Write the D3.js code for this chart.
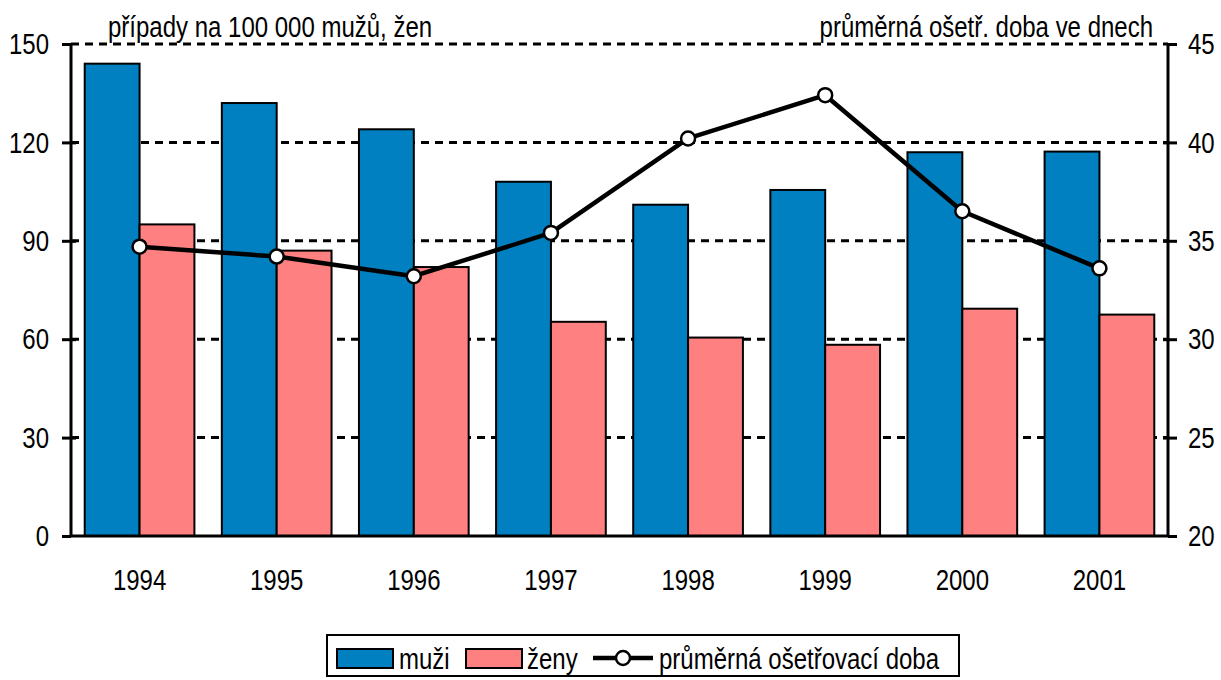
<!DOCTYPE html>
<html>
<head>
<meta charset="utf-8">
<script src="https://cdn.jsdelivr.net/npm/d3@7"></script>
<style>
  html, body { margin: 0; padding: 0; background: #fff; }
  svg text { font-family: "Liberation Sans", Arial, sans-serif; fill: #000; }
</style>
</head>
<body>
<svg id="chart" width="1221" height="680"></svg>
<script>
'use strict';
// data
const years = ['1994', '1995', '1996', '1997', '1998', '1999', '2000', '2001'];
const muzi = [144, 132, 124, 108, 101, 105.5, 117, 117.2];
const zeny = [95, 87, 82, 65.3, 60.5, 58.3, 69.3, 67.5];
const doba = [34.7, 34.2, 33.2, 35.4, 40.2, 42.4, 36.5, 33.6];
const leftTicks = [0, 30, 60, 90, 120, 150];
const rightTicks = [20, 25, 30, 35, 40, 45];
const leftTitle = 'případy na 100 000 mužů, žen';
const rightTitle = 'průměrná ošetř. doba ve dnech';
const legendLabels = ['muži', 'ženy', 'průměrná ošetřovací doba'];

const blue = '#0080c0';
const pink = '#ff8080';
const fontSize = 30;
const squeeze = 0.8; // reference uses a narrow face

const svg = d3.select('#chart');
const mLeft = 71, mRight = 1168, mTop = 44, mBottom = 536;

const x = d3.scaleBand().domain(years).range([mLeft, mRight]).padding(0);
const yL = d3.scaleLinear().domain([0, 150]).range([mBottom, mTop]);
const yR = d3.scaleLinear().domain([20, 45]).range([mBottom, mTop]);

const barW = x.bandwidth() * 0.4;

function addText(parent, px, py, str, anchor) {
  return parent.append('text')
    .attr('transform', 'translate(' + px + ',' + py + ') scale(' + squeeze + ',1)')
    .attr('text-anchor', anchor || 'start')
    .style('font-size', fontSize + 'px')
    .text(str);
}

// dotted grid lines
svg.append('g').selectAll('line')
  .data(leftTicks.filter(d => d > 0))
  .join('line')
  .attr('x1', mLeft).attr('x2', mRight)
  .attr('y1', d => yL(d)).attr('y2', d => yL(d))
  .attr('stroke', '#000')
  .attr('stroke-width', 3)
  .attr('stroke-dasharray', '8,6');

// bars
const groups = svg.append('g').selectAll('g')
  .data(years)
  .join('g');

groups.append('rect')
  .attr('x', d => x(d) + x.bandwidth() / 2 - barW)
  .attr('y', (d, i) => yL(muzi[i]))
  .attr('width', barW)
  .attr('height', (d, i) => yL(0) - yL(muzi[i]))
  .attr('fill', blue)
  .attr('stroke', '#000')
  .attr('stroke-width', 2);

groups.append('rect')
  .attr('x', d => x(d) + x.bandwidth() / 2)
  .attr('y', (d, i) => yL(zeny[i]))
  .attr('width', barW)
  .attr('height', (d, i) => yL(0) - yL(zeny[i]))
  .attr('fill', pink)
  .attr('stroke', '#000')
  .attr('stroke-width', 2);

// axes
const axisL = svg.append('g')
  .attr('transform', 'translate(' + mLeft + ',0)')
  .call(d3.axisLeft(yL).tickValues(leftTicks).tickSize(9).tickPadding(13));
const axisR = svg.append('g')
  .attr('transform', 'translate(' + mRight + ',0)')
  .call(d3.axisRight(yR).tickValues(rightTicks).tickSize(9).tickPadding(11));
const axisB = svg.append('g')
  .attr('transform', 'translate(0,' + mBottom + ')')
  .call(d3.axisBottom(x).tickSize(0).tickPadding(33));

[axisL, axisR, axisB].forEach(function(a) {
  a.select('.domain').attr('stroke', '#000').attr('stroke-width', 3);
  a.selectAll('.tick line').attr('stroke', '#000').attr('stroke-width', 3);
  a.selectAll('.tick text')
    .style('font-family', '"Liberation Sans", Arial, sans-serif')
    .style('font-size', fontSize + 'px')
    .attr('fill', '#000')
    .attr('x', function() { return +d3.select(this).attr('x') / squeeze; })
    .attr('transform', 'scale(' + squeeze + ',1)');
});
axisL.select('.domain').attr('d', 'M0,' + mBottom + 'V' + mTop);
axisR.select('.domain').attr('d', 'M0,' + mBottom + 'V' + mTop);
axisB.select('.domain').attr('d', 'M' + mLeft + ',0H' + mRight);
axisL.selectAll('.tick line').attr('x2', -9).attr('x1', d => (d > 0 && d < 150) ? 5 : 0);
axisR.selectAll('.tick line').attr('x2', 9).attr('x1', d => (d > 20 && d < 45) ? -5 : 0);

// line series
const line = d3.line()
  .x((d, i) => x(years[i]) + x.bandwidth() / 2)
  .y(d => yR(d));

svg.append('path')
  .datum(doba)
  .attr('d', line)
  .attr('fill', 'none')
  .attr('stroke', '#000')
  .attr('stroke-width', 4.5)
  .attr('stroke-linejoin', 'round');

svg.append('g').selectAll('circle')
  .data(doba)
  .join('circle')
  .attr('cx', (d, i) => x(years[i]) + x.bandwidth() / 2)
  .attr('cy', d => yR(d))
  .attr('r', 7)
  .attr('fill', '#fff')
  .attr('stroke', '#000')
  .attr('stroke-width', 2.5);

// axis titles
addText(svg, 108, 37, leftTitle);
addText(svg, 1153, 37, rightTitle, 'end');

// legend
const legend = svg.append('g');
legend.append('rect')
  .attr('x', 327).attr('y', 635)
  .attr('width', 632).attr('height', 41)
  .attr('fill', '#fff')
  .attr('stroke', '#000')
  .attr('stroke-width', 2);

const lgY = 658;
legend.append('rect')
  .attr('x', 337).attr('y', 649).attr('width', 56).attr('height', 19)
  .attr('fill', blue).attr('stroke', '#000').attr('stroke-width', 2);
addText(legend, 399, lgY + 11, legendLabels[0]);

legend.append('rect')
  .attr('x', 466).attr('y', 649).attr('width', 56).attr('height', 19)
  .attr('fill', pink).attr('stroke', '#000').attr('stroke-width', 2);
addText(legend, 527, lgY + 11, legendLabels[1]);

legend.append('line')
  .attr('x1', 593).attr('x2', 653).attr('y1', lgY).attr('y2', lgY)
  .attr('stroke', '#000').attr('stroke-width', 4.5);
legend.append('circle')
  .attr('cx', 623).attr('cy', lgY).attr('r', 7)
  .attr('fill', '#fff').attr('stroke', '#000').attr('stroke-width', 2.5);
addText(legend, 659, lgY + 11, legendLabels[2]);
</script>
</body>
</html>
